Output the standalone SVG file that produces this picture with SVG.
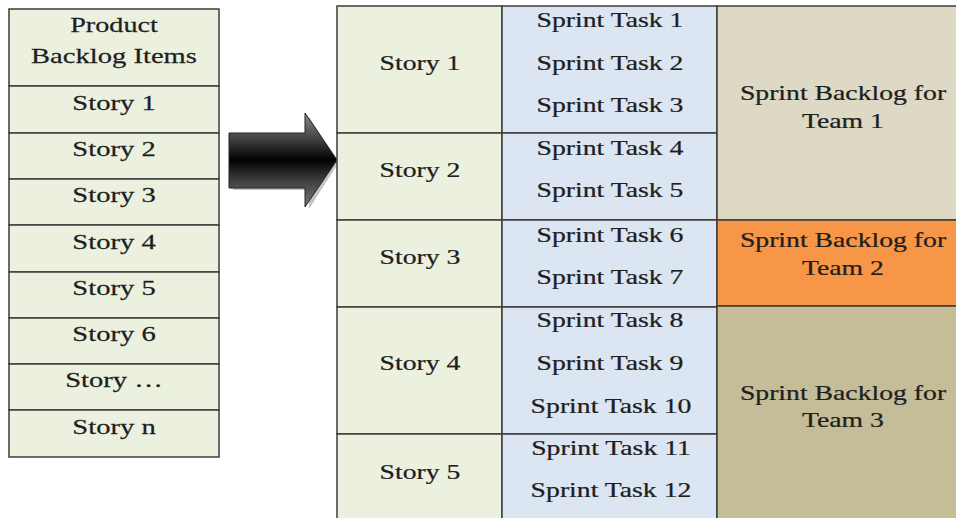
<svg xmlns="http://www.w3.org/2000/svg" width="956" height="518" viewBox="0 0 956 518">
<defs>
<style>
text{font-family:"Liberation Serif","Times New Roman",serif;font-size:22px;fill:#1e1e1e;text-anchor:middle;stroke:#1e1e1e;stroke-width:0.25}
.g{fill:#EBF1DE;stroke:#3c3c3c;stroke-width:1.5}
.b{fill:#DCE6F2;stroke:#3c3c3c;stroke-width:1.5}
.t1{fill:#DDD9C4;stroke:#3c3c3c;stroke-width:1.5}
.t2{fill:#F79646;stroke:#3c3c3c;stroke-width:1.5}
.t3{fill:#C4BD97;stroke:#3c3c3c;stroke-width:1.5}
</style>
<linearGradient id="ag" x1="0" y1="0" x2="0" y2="1">
<stop offset="0" stop-color="#8a8a8a"/>
<stop offset="0.3" stop-color="#3a3a3a"/>
<stop offset="0.5" stop-color="#000"/>
<stop offset="0.7" stop-color="#3a3a3a"/>
<stop offset="1" stop-color="#7a7a7a"/>
</linearGradient>
</defs>
<rect width="956" height="518" fill="#fff"/>

<g id="product-backlog">
<g id="pb-header"><rect class="g" x="9" y="9" width="210" height="77"/><text transform="translate(114,32) scale(1.28,1)">Product</text><text transform="translate(114,63) scale(1.3,1)">Backlog Items</text></g>
<g id="pb-story1"><rect class="g" x="9" y="86" width="210" height="47"/><text transform="translate(114,110) scale(1.3,1)">Story 1</text></g>
<g id="pb-story2"><rect class="g" x="9" y="133" width="210" height="46"/><text transform="translate(114,156) scale(1.3,1)">Story 2</text></g>
<g id="pb-story3"><rect class="g" x="9" y="179" width="210" height="46"/><text transform="translate(114,202) scale(1.3,1)">Story 3</text></g>
<g id="pb-story4"><rect class="g" x="9" y="225" width="210" height="47"/><text transform="translate(114,249) scale(1.3,1)">Story 4</text></g>
<g id="pb-story5"><rect class="g" x="9" y="272" width="210" height="46"/><text transform="translate(114,295) scale(1.3,1)">Story 5</text></g>
<g id="pb-story6"><rect class="g" x="9" y="318" width="210" height="46"/><text transform="translate(114,341) scale(1.3,1)">Story 6</text></g>
<g id="pb-storydots"><rect class="g" x="9" y="364" width="210" height="46"/><text transform="translate(114,387) scale(1.3,1)">Story …</text></g>
<g id="pb-storyn"><rect class="g" x="9" y="410" width="210" height="47"/><text transform="translate(114,434) scale(1.3,1)">Story n</text></g>
</g>

<g id="connectors">
<path d="M231 135 H307 V115 L337 160 L307 207 V188 H231 Z" fill="#555" opacity="0.35" transform="translate(2,2)"/>
<path d="M229 133 H305 V113 L337 160 L305 207 V188 H229 Z" fill="url(#ag)" stroke="#222" stroke-width="1"/>
</g>

<g id="sprint-backlog">
<g id="story1"><rect class="g" x="337" y="6" width="165" height="127"/><text transform="translate(420,70) scale(1.26,1)">Story 1</text></g>
<g id="story2"><rect class="g" x="337" y="133" width="165" height="87"/><text transform="translate(420,177) scale(1.26,1)">Story 2</text></g>
<g id="story3"><rect class="g" x="337" y="220" width="165" height="87"/><text transform="translate(420,264) scale(1.26,1)">Story 3</text></g>
<g id="story4"><rect class="g" x="337" y="307" width="165" height="127"/><text transform="translate(420,370) scale(1.26,1)">Story 4</text></g>
<g id="story5"><rect class="g" x="337" y="434" width="165" height="90"/><text transform="translate(420,479) scale(1.26,1)">Story 5</text></g>

<g id="tasks-story1"><rect class="b" x="502" y="6" width="215" height="127"/>
<text transform="translate(610,27) scale(1.26,1)">Sprint Task 1</text>
<text transform="translate(610,70) scale(1.26,1)">Sprint Task 2</text>
<text transform="translate(610,112) scale(1.26,1)">Sprint Task 3</text></g>
<g id="tasks-story2"><rect class="b" x="502" y="133" width="215" height="87"/>
<text transform="translate(610,155) scale(1.26,1)">Sprint Task 4</text>
<text transform="translate(610,197) scale(1.26,1)">Sprint Task 5</text></g>
<g id="tasks-story3"><rect class="b" x="502" y="220" width="215" height="87"/>
<text transform="translate(610,242) scale(1.26,1)">Sprint Task 6</text>
<text transform="translate(610,284) scale(1.26,1)">Sprint Task 7</text></g>
<g id="tasks-story4"><rect class="b" x="502" y="307" width="215" height="127"/>
<text transform="translate(610,327) scale(1.26,1)">Sprint Task 8</text>
<text transform="translate(610,370) scale(1.26,1)">Sprint Task 9</text>
<text transform="translate(611,413) scale(1.26,1)">Sprint Task 10</text></g>
<g id="tasks-story5"><rect class="b" x="502" y="434" width="215" height="90"/>
<text transform="translate(611,455) scale(1.26,1)">Sprint Task 11</text>
<text transform="translate(611,497) scale(1.26,1)">Sprint Task 12</text></g>

<g id="team1"><rect class="t1" x="717" y="6" width="245" height="214"/>
<text transform="translate(843,100) scale(1.26,1)">Sprint Backlog for</text>
<text transform="translate(843,128) scale(1.26,1)">Team 1</text></g>
<g id="team2"><rect class="t2" x="717" y="220" width="245" height="86"/>
<text transform="translate(843,247) scale(1.26,1)">Sprint Backlog for</text>
<text transform="translate(843,275) scale(1.26,1)">Team 2</text></g>
<g id="team3"><rect class="t3" x="717" y="306" width="245" height="218"/>
<text transform="translate(843,400) scale(1.26,1)">Sprint Backlog for</text>
<text transform="translate(843,427) scale(1.26,1)">Team 3</text></g>
</g>
</svg>
